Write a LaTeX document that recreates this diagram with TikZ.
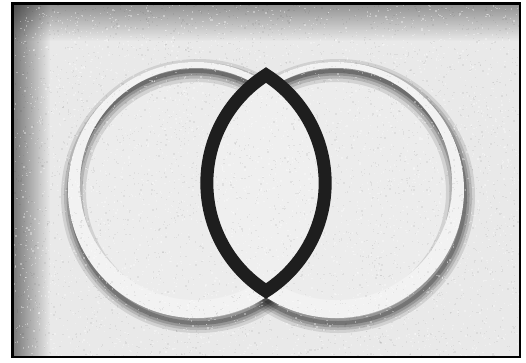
\documentclass[tikz,border=0pt]{standalone}
\usetikzlibrary{fadings}
\definecolor{bgc}{HTML}{E9E9E9}
\definecolor{ringc}{HTML}{F2F2F2}
\definecolor{discc}{HTML}{ECECEC}
\definecolor{lensc}{HTML}{EFEFEF}
\definecolor{inkc}{HTML}{1E1E1E}
\tikzset{
  softshade/.style={black,opacity=#1},
  lensline/.style={draw=inkc,line width=13pt,line join=miter},
  frameline/.style={draw=black,line width=2.5pt},
}
\newcommand\mydropshadow[1]{%
  \foreach \w/\o in {20/0.10,14/0.13,9/0.17,4/0.22}{%
    \draw[softshade=\o,line width=\w pt] (#1) ++(2,6) circle (127);}}
\newcommand\myembdisc[1]{%
  \fill[ringc] (#1) circle (128);
  \fill[discc] (#1) ++(0,-6) circle (116);
  \begin{scope}
    \clip (#1) ++(0,-6) circle (116);
    \foreach \w/\o in {22/0.11,15/0.14,9/0.19,4/0.25}{%
      \draw[softshade=\o,line width=\w pt] (#1) ++(0,2) circle (121);}
  \end{scope}}
\begin{document}
\begin{tikzpicture}[x=1pt,y=-1pt]
\useasboundingbox (0,0) rectangle (526,362);
\fill[white] (0,0) rectangle (526,362);
\fill[bgc] (12,3) rectangle (520,357);
% vignette along the left and top edges
\begin{scope}
  \clip (12,3) rectangle (520,357);
  \fill[black,opacity=0.65,path fading=east] (0,0) rectangle (50,362);
  \fill[black,opacity=0.5,path fading=south] (0,-9) rectangle (526,41);
\end{scope}
% circle centres
\coordinate (cl) at (196,190);
\coordinate (cr) at (336,190);
% embossed circles
\mydropshadow{cl}
\mydropshadow{cr}
\myembdisc{cl}
\myembdisc{cr}
% vesica
\coordinate (vt) at (266,75);
\coordinate (vb) at (266,291);
\fill[lensc] (vt) arc[start angle=237.43,end angle=122.57,radius=128.16]
  arc[start angle=57.43,end angle=-57.43,radius=128.16] -- cycle;
% paper noise
\pgfmathsetseed{7}
\foreach \i in {1,...,3200}{%
  \fill[black,opacity=0.06] ({12+507*rnd},{3+353*rnd}) rectangle ++(1.3,1.3);}
\foreach \i in {1,...,3200}{%
  \fill[white,opacity=0.35] ({12+507*rnd},{3+353*rnd}) rectangle ++(1.3,1.3);}
\draw[lensline] (vt) arc[start angle=237.43,end angle=122.57,radius=128.16]
  arc[start angle=57.43,end angle=-57.43,radius=128.16] -- cycle;
% frame
\draw[frameline] (12.25,3.25) rectangle (519.75,356.75);
\end{tikzpicture}
\end{document}
